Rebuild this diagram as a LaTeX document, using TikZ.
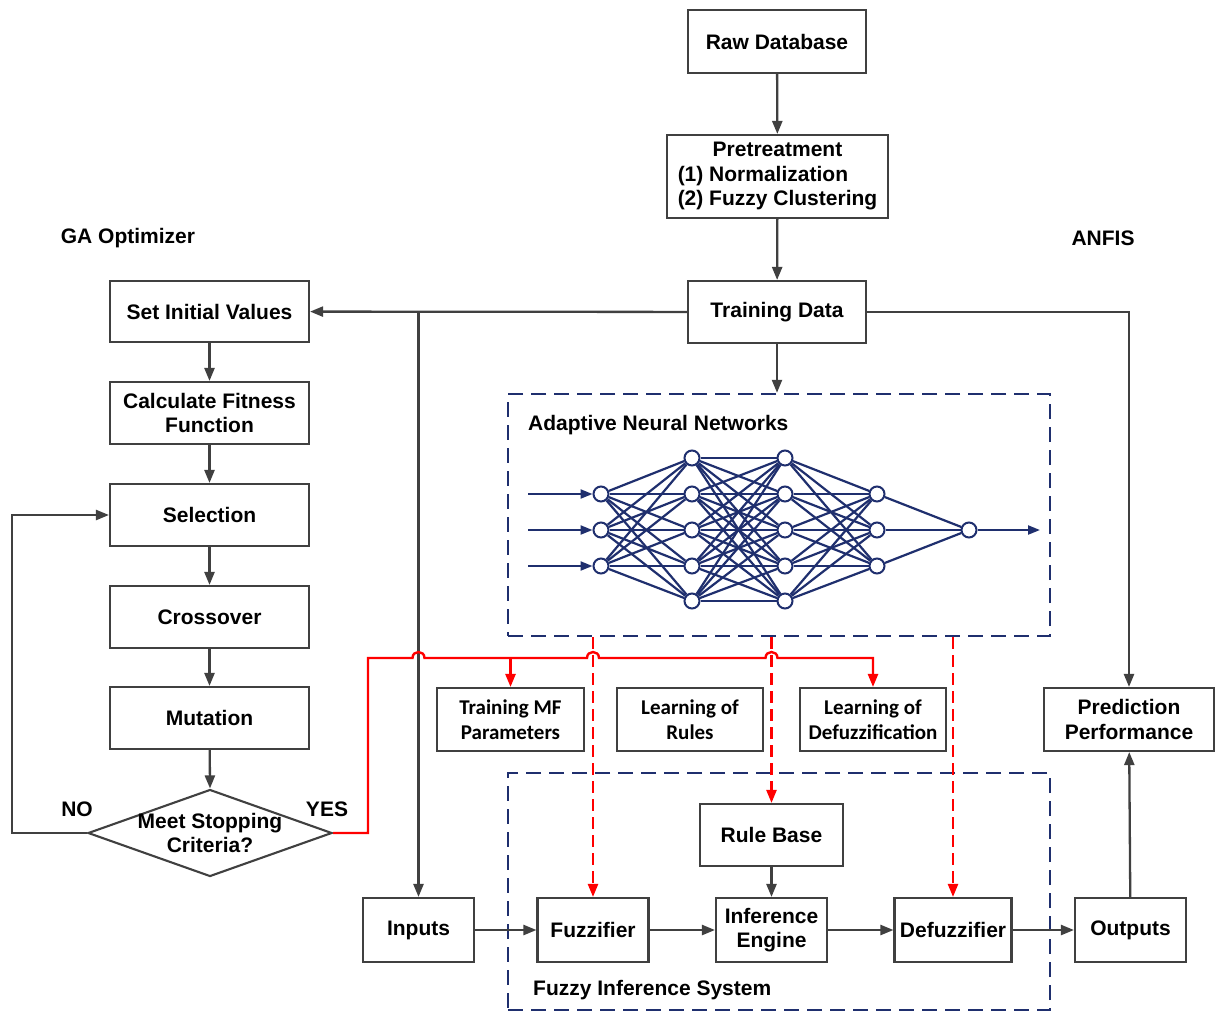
\documentclass[tikz,border=0pt]{standalone}
\usepackage{fontspec}
\setmainfont{Liberation Sans}
\newfontfamily\calib{Carlito}
\usetikzlibrary{arrows.meta,shapes.geometric,calc}
\definecolor{linegray}{HTML}{404040}
\definecolor{navy}{HTML}{1F2F6E}
\definecolor{redc}{HTML}{FF0000}
\begin{document}
\begin{tikzpicture}[x=1pt,y=-1pt,
  txt/.style={font=\fontsize{21}{24.5}\selectfont\bfseries},
  box/.style={txt,draw=linegray,line width=2.1pt,fill=white,inner sep=0pt,align=center},
  sbox/.style={box,font=\calib\fontsize{21}{25}\selectfont\bfseries},
  tip/.style={-{Triangle[length=13pt,width=10pt]}},
  conn/.style={draw=linegray,line width=2.3pt,tip},
  redl/.style={draw=redc,line width=2.4pt},
  redarr/.style={redl,tip},
  reddash/.style={draw=redc,line width=2.3pt,dash pattern=on 12pt off 6pt,tip},
  navydash/.style={draw=navy,line width=2.5pt,dash pattern=on 15pt off 8pt},
  neuron/.style={circle,draw=navy,line width=2pt,fill=white,minimum size=15pt,inner sep=0pt},
  nn/.style={draw=navy,line width=2.2pt},
  nnarr/.style={nn,-{Triangle[length=12pt,width=9pt]}}
]
\useasboundingbox (0,0) rectangle (1216,1013);
\fill[white] (0,0) rectangle (1216,1013);

% dashed containers
\node[navydash,minimum width=542pt,minimum height=242pt,inner sep=0pt] (ann) at (779,515) {};
\node[navydash,minimum width=542pt,minimum height=237pt,inner sep=0pt] (fis) at (779,891.5) {};
\node[txt,anchor=west,inner sep=0pt] (annlab) at (528,425) {Adaptive Neural Networks};
\node[txt,anchor=west,inner sep=0pt] (fislab) at (533,990) {Fuzzy Inference System};

% labels
\node[txt,inner sep=0pt] (galab) at (128,238) {GA Optimizer};
\node[txt,inner sep=0pt] (anfislab) at (1103,238) {ANFIS};

% top chain
\node[box,minimum width=178pt,minimum height=63pt] (raw) at (777,41.5) {Raw Database};
\node[box,minimum width=221pt,minimum height=83pt] (pre) at (777.5,176.5)
  {\begin{tabular}{@{}l@{}}\multicolumn{1}{@{}c@{}}{Pretreatment}\\(1) Normalization\\(2) Fuzzy Clustering\end{tabular}};
\node[box,minimum width=178pt,minimum height=62pt] (td) at (777,312) {Training Data};

% GA chain
\node[box,minimum width=199pt,minimum height=61pt] (siv) at (209.5,311.5) {Set Initial Values};
\node[box,minimum width=199pt,minimum height=62pt] (cff) at (209.5,413) {Calculate Fitness\\Function};
\node[box,minimum width=199pt,minimum height=62pt] (sel) at (209.5,515) {Selection};
\node[box,minimum width=199pt,minimum height=62pt] (cro) at (209.5,617) {Crossover};
\node[box,minimum width=199pt,minimum height=62pt] (mut) at (209.5,718) {Mutation};
\node[diamond,draw=linegray,line width=2.1pt,fill=white,minimum width=244pt,minimum height=87pt,inner sep=0pt] (dia) at (210,833) {};
\node[txt,align=center,inner sep=0pt] (diatxt) at (210,833) {Meet Stopping\\Criteria?};
\node[txt,inner sep=0pt] (nolab) at (77,809) {NO};
\node[txt,inner sep=0pt] (yeslab) at (327,809) {YES};

% learning boxes
\node[sbox,minimum width=147pt,minimum height=63pt] (tmf) at (510.5,719.5) {Training MF\\Parameters};
\node[sbox,minimum width=146pt,minimum height=63pt] (lor) at (690,719.5) {Learning of\\Rules};
\node[sbox,minimum width=146pt,minimum height=63pt] (lod) at (873,719.5) {Learning of\\Defuzzification};
\node[box,minimum width=170pt,minimum height=63pt] (pp) at (1129,719.5) {Prediction\\Performance};

% FIS
\node[box,minimum width=143pt,minimum height=62pt] (rb) at (771.5,835) {Rule Base};
\node[box,minimum width=111pt,minimum height=64pt] (inp) at (418.5,930) {Inputs};
\node[box,minimum width=111pt,minimum height=64pt] (fuz) at (593,930) {Fuzzifier};
\node[box,minimum width=111pt,minimum height=64pt] (ie) at (771.5,930) {Inference\\Engine};
\node[box,minimum width=117pt,minimum height=64pt] (dfz) at (953,930) {Defuzzifier};
\node[box,minimum width=111pt,minimum height=64pt] (out) at (1130.5,930) {Outputs};

% neural network
\foreach \i/\yy in {1/494,2/530,3/566} \node[neuron] (a\i) at (601,\yy) {};
\foreach \i/\yy in {1/458,2/494,3/530,4/566,5/601} {
  \node[neuron] (b\i) at (692,\yy) {};
  \node[neuron] (c\i) at (785,\yy) {};
}
\foreach \i/\yy in {1/494,2/530,3/566} \node[neuron] (d\i) at (877,\yy) {};
\node[neuron] (o) at (969,530) {};
\foreach \i in {1,2,3} \foreach \j in {1,...,5} \draw[nn] (a\i) -- (b\j);
\foreach \i in {1,...,5} \foreach \j in {1,...,5} \draw[nn] (b\i) -- (c\j);
\foreach \i in {1,...,5} \foreach \j in {1,2,3} \draw[nn] (c\i) -- (d\j);
\foreach \i in {1,2,3} \draw[nn] (d\i) -- (o);
\foreach \i/\yy in {1/494,2/530,3/566} {
  \coordinate (in\i) at (528,\yy);
  \draw[nnarr] (in\i) -- (a\i);
}
\coordinate (nnout) at (1040,530);
\draw[nnarr] (o) -- (nnout);

% gray connectors
\draw[conn] (raw) -- (pre);
\draw[conn] (pre) -- (td);
\draw[conn] (td) -- (siv);
\coordinate (j1) at (inp.north |- td.west);
\draw[conn] (j1) -- (inp);
\draw[conn] (td.east) -| (pp.north);
\draw[conn] (out) -- (pp);
\draw[conn] (td.south) -- (td.south |- ann.north);
\draw[conn] (siv) -- (cff);
\draw[conn] (cff) -- (sel);
\draw[conn] (sel) -- (cro);
\draw[conn] (cro) -- (mut);
\draw[conn] (mut) -- (dia.north);
\coordinate (noc) at (12,833);
\draw[conn] (dia.west) -- (noc) |- (sel.west);
\draw[conn] (inp) -- (fuz);
\draw[conn] (fuz) -- (ie);
\draw[conn] (ie) -- (dfz);
\draw[conn] (dfz) -- (out);
\draw[conn] (rb) -- (ie);

% red dashed
\draw[reddash] (fuz.north |- ann.south) -- (fuz.north);
\draw[reddash] (rb.north |- ann.south) -- (rb.north);
\draw[reddash] (dfz.north |- ann.south) -- (dfz.north);

% red solid with hops
\coordinate (r0) at (368,833);
\coordinate (r1) at (368,658);
\coordinate (h1) at (inp.north |- r1);
\coordinate (h2) at (fuz.north |- r1);
\coordinate (h3) at (rb.north |- r1);
\draw[redarr] (dia.east) -- (r0) -- (r1)
  -- ($(h1)+(-6,0)$) .. controls +(0,-8) and +(0,-8) .. ($(h1)+(6,0)$)
  -- ($(h2)+(-6,0)$) .. controls +(0,-8) and +(0,-8) .. ($(h2)+(6,0)$)
  -- ($(h3)+(-6,0)$) .. controls +(0,-8) and +(0,-8) .. ($(h3)+(6,0)$)
  -| (lod.north);
\draw[redarr] (tmf.north |- r1) -- (tmf.north);
\end{tikzpicture}
\end{document}
